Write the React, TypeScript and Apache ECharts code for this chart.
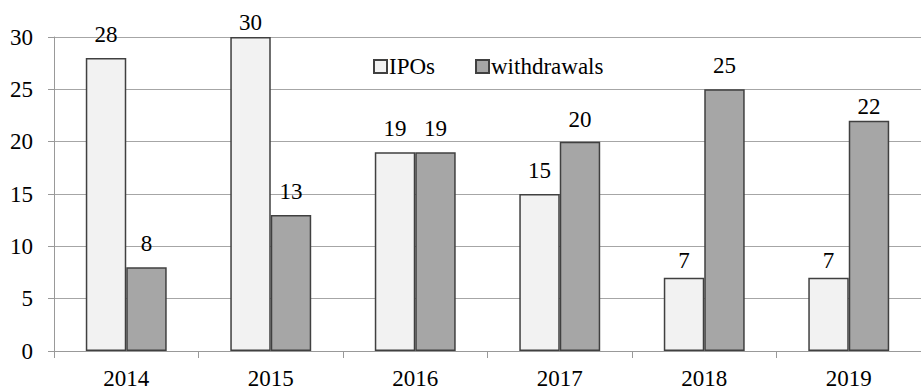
import React, { useEffect, useRef } from "react";
import * as echarts from "echarts";

const years = ["2014", "2015", "2016", "2017", "2018", "2019"];
const ipos = [28, 30, 19, 15, 7, 7];
const withdrawals = [8, 13, 19, 20, 25, 22];
const yTicks = { min: 0, max: 30, interval: 5 };
// space between each bar's top and its value label
const iposLabelGap = [12, 3, 12, 12, 6, 6];
const withdrawalsLabelGap = [12, 12, 12, 11, 12, 3];

const FONT = "'Liberation Serif', 'Times New Roman', serif";
const FS = 23;

export default function App() {
  const ref = useRef<HTMLDivElement>(null);

  useEffect(() => {
    if (!ref.current) return;
    const chart = echarts.init(ref.current, null, { renderer: "svg" });
    const labelStyle = {
      show: true,
      position: "top" as const,
      color: "#000",
      fontFamily: FONT,
      fontSize: FS,
    };
    const withGaps = (values: number[], gaps: number[]) =>
      values.map((v, i) => ({ value: v, label: { distance: gaps[i] } }));
    chart.setOption({
      animation: false,
      backgroundColor: "#fff",
      textStyle: { fontFamily: FONT },
      legend: {
        top: 50,
        left: 368,
        itemWidth: 13,
        itemHeight: 13,
        itemGap: 40,
        textStyle: { fontFamily: FONT, fontSize: FS, color: "#000", padding: [0, 0, 0, -3] },
        data: [
          { name: "IPOs", icon: "rect" },
          { name: "withdrawals", icon: "rect" },
        ],
      },
      grid: { left: 54, right: -9, top: 37, bottom: 38 },
      xAxis: {
        type: "category",
        data: years,
        axisLine: { lineStyle: { color: "#999", width: 1 } },
        axisTick: { show: true, length: 7, lineStyle: { color: "#999" }, alignWithLabel: false },
        axisLabel: { color: "#000", fontFamily: FONT, fontSize: FS, margin: 16 },
      },
      yAxis: {
        type: "value",
        min: yTicks.min,
        max: yTicks.max,
        interval: yTicks.interval,
        axisLine: { show: true, lineStyle: { color: "#999", width: 1 } },
        axisTick: { show: true, inside: false, length: 6, lineStyle: { color: "#999" } },
        axisLabel: { color: "#000", fontFamily: FONT, fontSize: FS, margin: 21 },
        splitLine: { lineStyle: { color: "#a6a6a6", width: 1 } },
      },
      series: [
        {
          name: "IPOs",
          type: "bar",
          data: withGaps(ipos, iposLabelGap),
          barGap: "0%",
          barCategoryGap: "44%",
          itemStyle: { color: "#f2f2f2", borderColor: "#404040", borderWidth: 1.5 },
          label: labelStyle,
        },
        {
          name: "withdrawals",
          type: "bar",
          data: withGaps(withdrawals, withdrawalsLabelGap),
          itemStyle: { color: "#a6a6a6", borderColor: "#404040", borderWidth: 1.5 },
          label: labelStyle,
        },
      ],
    });
    return () => chart.dispose();
  }, []);

  return (
    <div style={{ position: "absolute", left: 0, top: 0, width: 921, height: 390, overflow: "hidden" }}>
      <div ref={ref} style={{ width: 921, height: 390 }} />
    </div>
  );
}
